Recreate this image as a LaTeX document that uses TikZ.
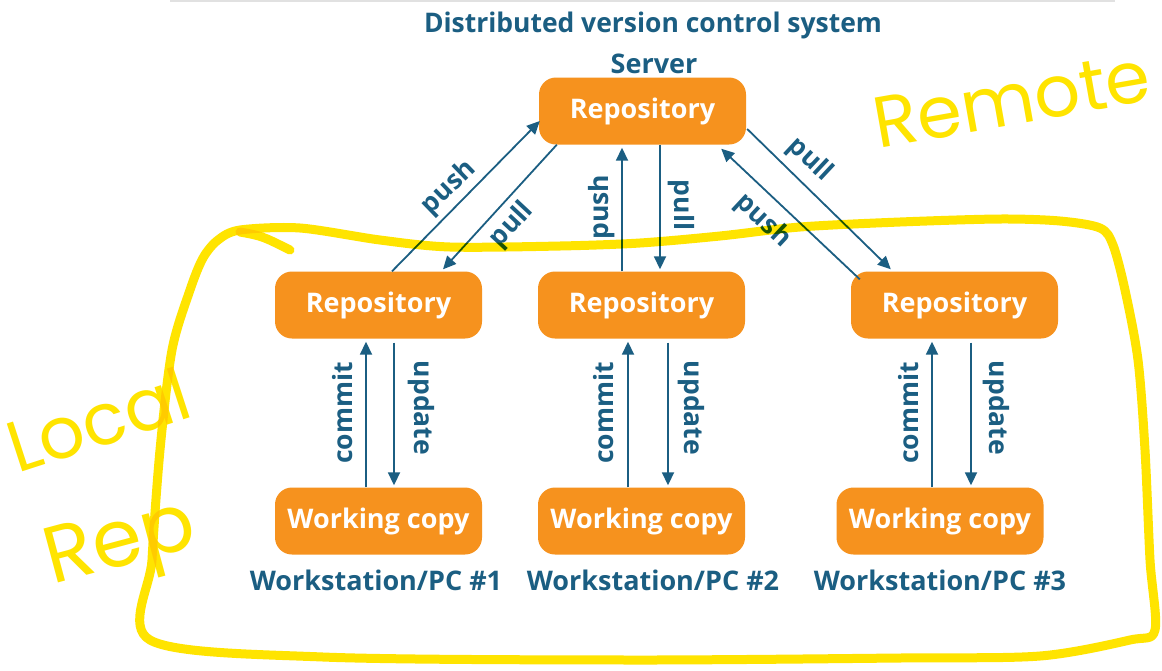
\documentclass[tikz,border=0pt]{standalone}
\usepackage{fontspec}
\setmainfont{Open Sans}
\newfontfamily\handfont{Poppins}
\usetikzlibrary{arrows.meta,calc}
\definecolor{vcsorange}{RGB}{246,146,30}
\definecolor{vcsblue}{RGB}{27,94,130}
\definecolor{hlyellow}{RGB}{255,228,0}
\definecolor{rulegrey}{RGB}{225,225,225}
\begin{document}
\begin{tikzpicture}[x=1pt,y=-1pt,
  box/.style={fill=vcsorange, rounded corners=17pt, minimum width=207pt, minimum height=67pt, inner sep=0pt, text=white, font=\bfseries\fontsize{27}{30}\selectfont},
  lbl/.style={text=vcsblue, font=\bfseries\fontsize{27}{30}\selectfont, inner sep=0pt},
  alab/.style={text=vcsblue, font=\bfseries\fontsize{26.5}{30}\selectfont, inner sep=0pt},
  flow/.style={draw=vcsblue, line width=1.8pt, -{Triangle[length=13pt,width=12pt]}},
  hl/.style={draw=hlyellow, line width=9pt, line cap=round, line join=round},
  hltext/.style={text=hlyellow, font=\handfont\fontsize{72}{80}\selectfont, inner sep=0pt}
]
\useasboundingbox (0,0) rectangle (1162,670);
\fill[white] (0,0) rectangle (1162,670);
\coordinate (ruleL) at (170,1);
\coordinate (ruleR) at (1115,1);
\draw[rulegrey, line width=1.5pt] (ruleL) -- (ruleR);

\node[lbl, xscale=0.98] (title) at (653,25) {Distributed version control system};
\node[lbl] (server) at (654,64) {Server};

\node[box] (srv) at (642.5,111) {Repository};
\node[box] (r1) at (378.5,305) {Repository};
\node[box] (r2) at (641.5,305) {Repository};
\node[box] (r3) at (954.5,305) {Repository};
\node[box] (w1) at (378.5,521) {Working copy};
\node[box] (w2) at (641.5,521) {Working copy};
\node[box] (w3) at (940,521) {Working copy};

\node[lbl] (pc1) at (376,580) {Workstation/PC \#1};
\node[lbl] (pc2) at (653,580) {Workstation/PC \#2};
\node[lbl] (pc3) at (940,580) {Workstation/PC \#3};

% local commit / update
\draw[flow] ($(w1.north)+(-12.5,0)$) -- ($(r1.south)+(-12.5,3)$);
\draw[flow] ($(r1.south)+(15.5,4)$) -- ($(w1.north)+(15.5,-2)$);
\draw[flow] ($(w2.north)+(-13.5,0)$) -- ($(r2.south)+(-13.5,3)$);
\draw[flow] ($(r2.south)+(26.5,4)$) -- ($(w2.north)+(26.5,-2)$);
\draw[flow] ($(w3.north)+(-8,0)$) -- ($(r3.south)+(-22.5,3)$);
\draw[flow] ($(r3.south)+(16.5,4)$) -- ($(w3.north)+(31,-2)$);

\node[alab, rotate=90] (c1) at (343,413) {commit};
\node[alab, rotate=-90] (u1) at (421,408) {update};
\node[alab, rotate=90] (c2) at (604,413) {commit};
\node[alab, rotate=-90] (u2) at (691,408) {update};
\node[alab, rotate=90] (c3) at (909,413) {commit};
\node[alab, rotate=-90] (u3) at (996,408) {update};

% push / pull with server
\draw[flow] ($(r1.north)+(13.5,0)$) -- ($(srv.west)+(1,10)$);
\draw[flow] ($(srv.south west)+(18,0)$) -- ($(r1.north)+(64.5,-2)$);
\draw[flow] ($(r2.north)+(-19.5,0)$) -- ($(srv.south)+(-20.5,3)$);
\draw[flow] ($(srv.south)+(17.5,0)$) -- ($(r2.north)+(18.5,-2)$);
\draw[flow] ($(r3.north west)+(9,8)$) -- ($(srv.south east)+(-25,4)$);
\draw[flow] ($(srv.east)+(1,18)$) -- ($(r3.north west)+(40,-2)$);

\node[alab, rotate=44] (ps1) at (449,188) {push};
\node[alab, rotate=47] (pl1) at (512,225) {pull};
\node[alab, rotate=90] (ps2) at (602,207) {push};
\node[alab, rotate=-90] (pl2) at (681,205) {pull};
\node[alab, rotate=-43] (pl3) at (810,160) {pull};
\node[alab, rotate=-43] (ps3) at (763,221) {push};

% yellow freehand annotation
\begin{scope}[blend mode=multiply]
\draw[hl] plot[smooth cycle, tension=0.5] coordinates {
  (240,230) (300,228) (380,240) (450,247) (560,246) (640,243) (720,236)
  (800,227) (900,222) (1000,219) (1060,221) (1100,228) (1113,245)
  (1125,290) (1138,360) (1145,450) (1150,560) (1155,630) (1130,640)
  (1040,656) (900,658) (630,660) (323,657) (150,640) (152,560)
  (160,450) (172,350) (190,290) (203,258) (218,240)};
\coordinate (hookA) at (240,232);
\coordinate (hookB) at (290,250);
\draw[hl] (hookA) .. controls (262,236) .. (hookB);
\node[hltext, rotate=10] (remote) at (1012,100) {Remote};
\node[hltext, rotate=18] (local) at (98,420) {Local};
\node[hltext, rotate=15, font=\handfont\fontsize{80}{84}\selectfont] (rep) at (122,548) {Rep};
\end{scope}
\end{tikzpicture}
\end{document}
